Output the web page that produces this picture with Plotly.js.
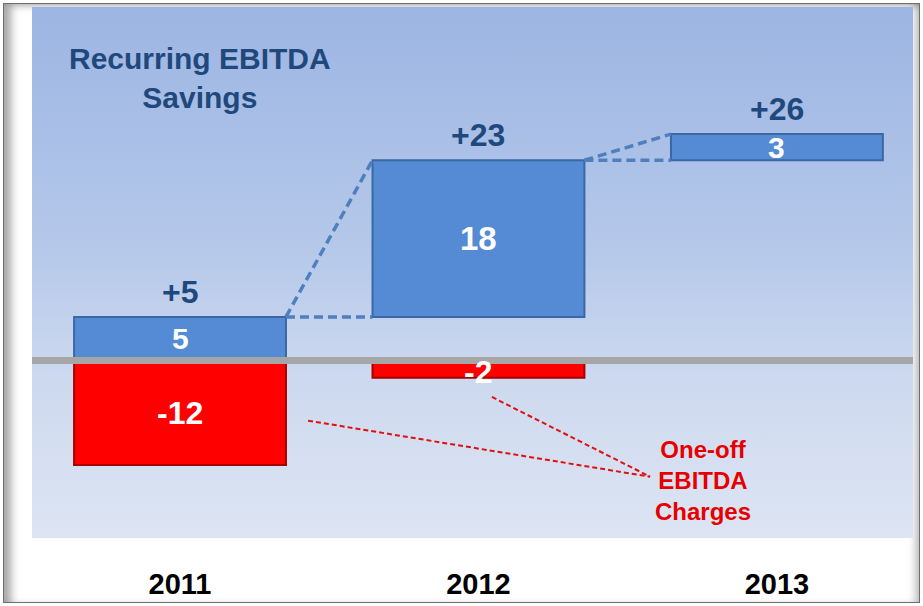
<!DOCTYPE html>
<html>
<head>
<meta charset="utf-8">
<script src="https://cdn.plot.ly/plotly-3.0.1.min.js"></script>
<style>
  html, body { margin: 0; padding: 0; background: #ffffff; }
  #wrap { position: relative; width: 923px; height: 606px; overflow: hidden; }
  #frame { position: absolute; left: 3px; top: 3px; width: 917px; height: 600px;
           border: 1px solid #6e6e6e; box-sizing: border-box;
           box-shadow: inset 10px 4px 9px -3px rgba(0,0,0,0.35), inset -7px 0 8px -4px rgba(0,0,0,0.3); background: #fff; }
  #bg { position: absolute; left: 32px; top: 7px; width: 881px; height: 531px;
        background: linear-gradient(to bottom, #9cb5e2 0%, #b5c8ea 45%, #cdd9ef 70%, #dde5f3 100%); }
  #chart { position: absolute; left: 0; top: 0; width: 923px; height: 606px; }
</style>
</head>
<body>
<div id="wrap">
  <div id="frame"></div>
  <div id="bg"></div>
  <div id="chart"></div>
</div>
<script>
// ---- data ----
const years = ["2011", "2012", "2013"];
const savings = [5, 18, 3];          // recurring EBITDA savings per year
const charges = [-12, -2, null];     // one-off EBITDA charges
const totals = ["+5", "+23", "+26"]; // cumulative savings labels

// ---- derived ----
const xpos = years.map((_, i) => i);
const bases = [];
let run = 0;
savings.forEach(v => { bases.push(run); run += v; });
const tops = savings.map((v, i) => bases[i] + v);
const W = 0.71;

const blue = {
  type: "bar", x: xpos, y: savings, base: bases, width: W,
  marker: { color: "#548bd4", line: { color: "#3b68a3", width: 2 } },
  hoverinfo: "skip", showlegend: false
};
const red = {
  type: "bar", x: xpos, y: charges, width: W,
  marker: { color: "#ff0000", line: { color: "#a80000", width: 2 } },
  hoverinfo: "skip", showlegend: false
};

const shapes = [];
// zero line
shapes.push({ type: "line", xref: "paper", yref: "y", x0: 0, x1: 1, y0: 0, y1: 0,
  line: { color: "#a6a6a6", width: 7 }, layer: "above" });
// blue dashed connectors
for (let i = 0; i < savings.length - 1; i++) {
  const xa = xpos[i] + W / 2, xb = xpos[i + 1] - W / 2;
  shapes.push({ type: "line", xref: "x", yref: "y", x0: xa, x1: xb, y0: tops[i], y1: tops[i + 1],
    line: { color: "#4f7fbe", width: 3.5, dash: "9px,5px" } });
  shapes.push({ type: "line", xref: "x", yref: "y", x0: xa, x1: xb, y0: tops[i], y1: tops[i],
    line: { color: "#4f7fbe", width: 3.5, dash: "9px,5px" } });
}
// red dashed pointer lines to the "One-off" note
const noteX = 1.575, noteY = -13.36;
shapes.push({ type: "line", xref: "x", yref: "y", x0: 0.429, y0: -6.92, x1: noteX, y1: noteY,
  line: { color: "#e01010", width: 2, dash: "5px,3px" } });
shapes.push({ type: "line", xref: "x", yref: "y", x0: 1.045, y0: -4.2, x1: noteX, y1: noteY,
  line: { color: "#e01010", width: 2, dash: "5px,3px" } });

const font = "Liberation Sans, Arial, sans-serif";
const annotations = [];
savings.forEach((v, i) => {
  annotations.push({ x: xpos[i], y: bases[i] + v / 2, text: "<b>" + v + "</b>", showarrow: false,
    font: { family: font, size: v > 10 ? 33 : 30, color: "#ffffff" } });
  annotations.push({ x: xpos[i], y: tops[i], text: "<b>" + totals[i] + "</b>", showarrow: false,
    yshift: 25, font: { family: font, size: 32, color: "#1f497d" } });
});
charges.forEach((v, i) => {
  if (v === null) return;
  annotations.push({ x: xpos[i], y: v / 2, text: "<b>" + v + "</b>", showarrow: false,
    yshift: v > -5 ? -3 : 0,
    font: { family: font, size: 32, color: "#ffffff" } });
});
annotations.push({ xref: "paper", yref: "paper", x: 0.191, y: 0.866, xanchor: "center", yanchor: "middle",
  text: "<b>Recurring EBITDA<br>Savings</b>",
  showarrow: false, align: "center", font: { family: font, size: 30, color: "#1f497d" } });
annotations.push({ x: 1.752, y: -13.85, text: "<b>One-off<br>EBITDA<br>Charges</b>", showarrow: false,
  align: "center", font: { family: font, size: 24, color: "#e60000" } });

const layout = {
  width: 923, height: 606,
  margin: { l: 32, r: 10, t: 7, b: 68 },
  paper_bgcolor: "rgba(0,0,0,0)", plot_bgcolor: "rgba(0,0,0,0)",
  barmode: "overlay",
  xaxis: { range: [-0.496, 2.456], tickvals: xpos, ticktext: years, showgrid: false, zeroline: false,
    showline: false, ticks: "", ticklabelstandoff: 26, fixedrange: true,
    tickfont: { family: font, size: 29, color: "#000000", weight: "bold" } },
  yaxis: { range: [-20.4, 40.6], showgrid: false, zeroline: false, showticklabels: false,
    showline: false, ticks: "", fixedrange: true },
  shapes: shapes, annotations: annotations, showlegend: false
};

Plotly.newPlot("chart", [blue, red], layout, { displayModeBar: false, staticPlot: true });
</script>
</body>
</html>
